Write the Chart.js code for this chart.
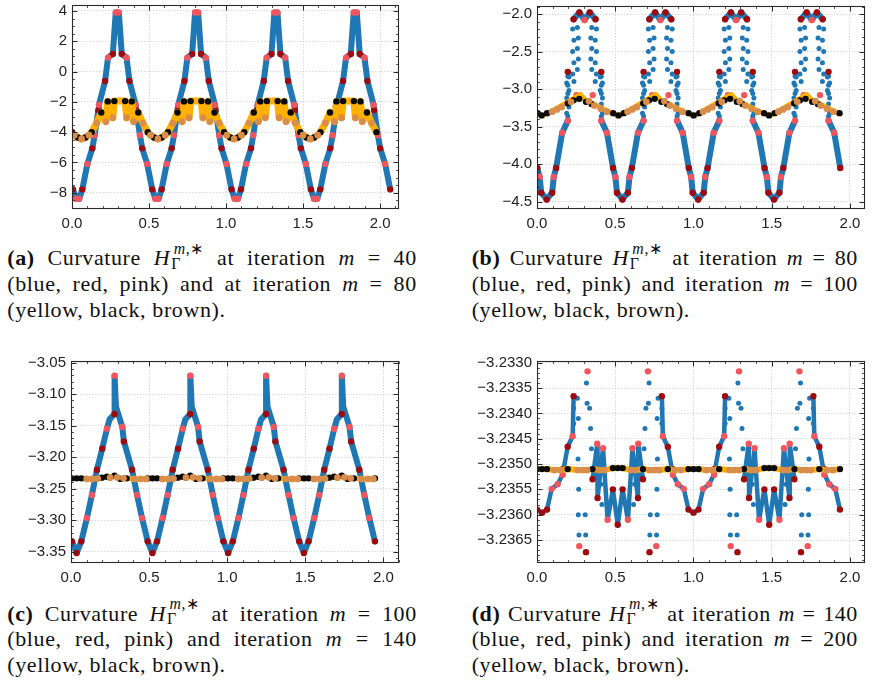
<!DOCTYPE html>
<html><head><meta charset="utf-8">
<script src="https://cdn.jsdelivr.net/npm/chart.js@4.4.0/dist/chart.umd.min.js"></script>
<style>
html,body{margin:0;padding:0;background:#fff;}
body{width:888px;height:682px;position:relative;overflow:hidden;}
canvas{position:absolute;}
.cap{position:absolute;font-family:"Liberation Serif","Times New Roman",serif;font-size:22px;line-height:25.7px;color:#111;letter-spacing:0.6px;}
.cap .j{text-align:justify;text-align-last:justify;}
.ss{display:inline-block;position:relative;width:1.55em;height:0.7em;}
.sp{position:absolute;left:0.22em;bottom:0.55em;font-size:0.72em;line-height:1;}
.sb{position:absolute;left:0.06em;bottom:-0.38em;font-size:0.72em;line-height:1;}
</style></head><body>
<canvas id="ca" width="420" height="235" style="left:0px;top:0px"></canvas>
<canvas id="cb" width="444" height="235" style="left:444px;top:0px"></canvas>
<canvas id="cc" width="420" height="250" style="left:0px;top:340px"></canvas>
<canvas id="cd" width="444" height="250" style="left:444px;top:340px"></canvas>

<div class="cap" style="left:7.3px;top:245.4px;width:409.5px">
<div class="j"><b>(a)</b> Curvature <i>H</i><span class="ss"><span class="sp"><i>m</i>,∗</span><span class="sb">Γ</span></span> at iteration <i>m</i> = 40</div>
<div class="j">(blue, red, pink) and at iteration <i>m</i> = 80</div>
<div>(yellow, black, brown).</div>
</div>
<div class="cap" style="left:471.7px;top:245.4px;width:386.3px">
<div class="j"><b>(b)</b> Curvature <i>H</i><span class="ss"><span class="sp"><i>m</i>,∗</span><span class="sb">Γ</span></span> at iteration <i>m</i> = 80</div>
<div class="j">(blue, red, pink) and iteration <i>m</i> = 100</div>
<div>(yellow, black, brown).</div>
</div>
<div class="cap" style="left:7.3px;top:600.7px;width:409.5px">
<div class="j"><b>(c)</b> Curvature <i>H</i><span class="ss"><span class="sp"><i>m</i>,∗</span><span class="sb">Γ</span></span> at iteration <i>m</i> = 100</div>
<div class="j">(blue, red, pink) and iteration <i>m</i> = 140</div>
<div>(yellow, black, brown).</div>
</div>
<div class="cap" style="left:471.7px;top:600.7px;width:386.3px">
<div class="j"><b>(d)</b> Curvature <i>H</i><span class="ss"><span class="sp"><i>m</i>,∗</span><span class="sb">Γ</span></span> at iteration <i>m</i> = 140</div>
<div class="j">(blue, red, pink) and iteration <i>m</i> = 200</div>
<div>(yellow, black, brown).</div>
</div>

<script>
// ================= DATA =================
// ---- tick values ----
const xTicks = [0, 0.5, 1.0, 1.5, 2.0];
const aYTicks = [-8, -6, -4, -2, 0, 2, 4];
const bYTicks = [-4.5, -4.0, -3.5, -3.0, -2.5, -2.0];
const cYTicks = [-3.35, -3.30, -3.25, -3.20, -3.15, -3.10, -3.05];
const dYTicks = [-3.2365, -3.2360, -3.2355, -3.2350, -3.2345, -3.2340, -3.2335, -3.2330];

// ---- panel (a): m=40 (red, pink markers on blue curve) ----
const aRed = [[0.006,-7.78],
 [0.067,-7.78],[0.132,-5.07],[0.171,-2.55],[0.215,-0.62],[0.265,1.16],[0.323,1.16],[0.373,-0.62],[0.417,-2.55],[0.456,-5.07],[0.521,-7.78],
 [0.582,-7.78],[0.647,-5.07],[0.686,-2.55],[0.730,-0.62],[0.780,1.16],[0.838,1.16],[0.888,-0.62],[0.932,-2.55],[0.971,-5.07],[1.036,-7.78],
 [1.097,-7.78],[1.162,-5.07],[1.201,-2.55],[1.245,-0.62],[1.295,1.16],[1.353,1.16],[1.403,-0.62],[1.447,-2.55],[1.486,-5.07],[1.551,-7.78],
 [1.612,-7.78],[1.677,-5.07],[1.716,-2.55],[1.760,-0.62],[1.810,1.16],[1.868,1.16],[1.918,-0.62],[1.962,-2.55],[2.001,-5.07],[2.066,-7.78]];
const aPink = [[0.026,-8.4],
 [0.047,-8.4],[0.100,-6.1],[0.147,-4.2],[0.175,-2.2],[0.234,0.92],[0.284,3.9],[0.304,3.9],[0.354,0.92],[0.413,-2.2],[0.441,-4.2],[0.488,-6.1],[0.541,-8.4],
 [0.562,-8.4],[0.615,-6.1],[0.662,-4.2],[0.690,-2.2],[0.749,0.92],[0.799,3.9],[0.819,3.9],[0.869,0.92],[0.928,-2.2],[0.956,-4.2],[1.003,-6.1],[1.056,-8.4],
 [1.077,-8.4],[1.130,-6.1],[1.177,-4.2],[1.205,-2.2],[1.264,0.92],[1.314,3.9],[1.334,3.9],[1.384,0.92],[1.443,-2.2],[1.471,-4.2],[1.518,-6.1],[1.571,-8.4],
 [1.592,-8.4],[1.645,-6.1],[1.692,-4.2],[1.720,-2.2],[1.779,0.92],[1.829,3.9],[1.849,3.9],[1.899,0.92],[1.958,-2.2],[1.986,-4.2],[2.033,-6.1]];
// ---- panel (a): m=80 (black, brown markers on yellow curve) ----
const aBlack = [[0.0,-4.0],[0.0375,-4.35],
 [0.0875,-4.35],[0.128,-4.0],[0.19,-2.7],[0.232,-1.97],[0.275,-1.95],[0.345,-1.95],[0.388,-1.97],[0.43,-2.7],[0.492,-4.0],[0.5325,-4.35],
 [0.5825,-4.35],[0.623,-4.0],[0.685,-2.7],[0.727,-1.97],[0.77,-1.95],[0.84,-1.95],[0.883,-1.97],[0.925,-2.7],[0.987,-4.0],[1.0275,-4.35],
 [1.0775,-4.35],[1.118,-4.0],[1.18,-2.7],[1.222,-1.97],[1.265,-1.95],[1.335,-1.95],[1.378,-1.97],[1.42,-2.7],[1.482,-4.0],[1.5225,-4.35],
 [1.5725,-4.35],[1.613,-4.0],[1.675,-2.7],[1.717,-1.97],[1.76,-1.95],[1.83,-1.95],[1.873,-1.97],[1.915,-2.7],[1.977,-4.0]];
const aBrown = [[0.015,-4.2],[0.0625,-4.45],
 [0.11,-4.2],[0.16,-3.4],[0.22,-3.3],[0.265,-3.05],[0.355,-3.05],[0.40,-3.3],[0.46,-3.4],[0.51,-4.2],[0.5575,-4.45],
 [0.605,-4.2],[0.655,-3.4],[0.715,-3.3],[0.76,-3.05],[0.85,-3.05],[0.895,-3.3],[0.955,-3.4],[1.005,-4.2],[1.0525,-4.45],
 [1.10,-4.2],[1.15,-3.4],[1.21,-3.3],[1.255,-3.05],[1.345,-3.05],[1.39,-3.3],[1.45,-3.4],[1.50,-4.2],[1.5475,-4.45],
 [1.595,-4.2],[1.645,-3.4],[1.705,-3.3],[1.75,-3.05],[1.84,-3.05],[1.885,-3.3],[1.945,-3.4]];

// ---- panel (b): m=80 ----
const bRed = [[0.002,-4.05],[0.027,-4.38],[0.062,-4.47],[0.097,-4.38],[0.122,-4.05],
 [0.197,-2.77],[0.234,-2.07],[0.271,-1.98],[0.337,-1.98],[0.374,-2.07],[0.411,-2.77],
 [0.486,-4.05],[0.511,-4.38],[0.546,-4.47],[0.581,-4.38],[0.606,-4.05],
 [0.681,-2.77],[0.718,-2.07],[0.755,-1.98],[0.821,-1.98],[0.858,-2.07],[0.895,-2.77],
 [0.970,-4.05],[0.995,-4.38],[1.030,-4.47],[1.065,-4.38],[1.090,-4.05],
 [1.165,-2.77],[1.202,-2.07],[1.239,-1.98],[1.305,-1.98],[1.342,-2.07],[1.379,-2.77],
 [1.454,-4.05],[1.479,-4.38],[1.514,-4.47],[1.549,-4.38],[1.574,-4.05],
 [1.649,-2.77],[1.686,-2.07],[1.723,-1.98],[1.789,-1.98],[1.826,-2.07],[1.863,-2.77],
 [1.938,-4.05]];
const bPink = [[0.017,-4.17],[0.107,-4.17],
 [0.161,-3.58],[0.197,-3.42],[0.252,-3.08],[0.304,-2.08],[0.356,-3.08],[0.411,-3.42],[0.447,-3.58],
 [0.501,-4.17],[0.591,-4.17],
 [0.645,-3.58],[0.681,-3.42],[0.736,-3.08],[0.788,-2.08],[0.840,-3.08],[0.895,-3.42],[0.931,-3.58],
 [0.985,-4.17],[1.075,-4.17],
 [1.129,-3.58],[1.165,-3.42],[1.220,-3.08],[1.272,-2.08],[1.324,-3.08],[1.379,-3.42],[1.415,-3.58],
 [1.469,-4.17],[1.559,-4.17],
 [1.613,-3.58],[1.649,-3.42],[1.704,-3.08],[1.756,-2.08],[1.808,-3.08],[1.863,-3.42],[1.899,-3.58]];
const bBlueLine = [[0.002,-4.05],[0.017,-4.17],[0.027,-4.38],[0.062,-4.47],[0.097,-4.38],[0.107,-4.17],[0.122,-4.05],[0.161,-3.58],[0.197,-3.42],null,
 [0.234,-2.07],[0.271,-1.98],[0.304,-2.08],[0.337,-1.98],[0.374,-2.07],null,
 [0.411,-3.42],[0.447,-3.58],[0.486,-4.05],[0.501,-4.17],[0.511,-4.38],[0.546,-4.47],[0.581,-4.38],[0.591,-4.17],[0.606,-4.05],[0.645,-3.58],[0.681,-3.42],null,
 [0.718,-2.07],[0.755,-1.98],[0.788,-2.08],[0.821,-1.98],[0.858,-2.07],null,
 [0.895,-3.42],[0.931,-3.58],[0.970,-4.05],[0.985,-4.17],[0.995,-4.38],[1.030,-4.47],[1.065,-4.38],[1.075,-4.17],[1.090,-4.05],[1.129,-3.58],[1.165,-3.42],null,
 [1.202,-2.07],[1.239,-1.98],[1.272,-2.08],[1.305,-1.98],[1.342,-2.07],null,
 [1.379,-3.42],[1.415,-3.58],[1.454,-4.05],[1.469,-4.17],[1.479,-4.38],[1.514,-4.47],[1.549,-4.38],[1.559,-4.17],[1.574,-4.05],[1.613,-3.58],[1.649,-3.42],null,
 [1.686,-2.07],[1.723,-1.98],[1.756,-2.08],[1.789,-1.98],[1.826,-2.07],null,
 [1.863,-3.42],[1.899,-3.58],[1.938,-4.05]];
// scattered blue dots in the "tulips": [x, [y values]]
const bBlueCols = [
 [0.190,[-3.32,-3.12,-2.92]],[0.197,[-3.36,-3.2,-3.06,-2.95,-2.83]],[0.204,[-3.24,-3.02,-2.84]],[0.228,[-2.2,-2.5,-2.8]],[0.236,[-2.35,-2.65,-2.9]],[0.258,[-2.18,-2.46,-2.74]],[0.264,[-2.32,-2.6]],
 [0.344,[-2.32,-2.6]],[0.350,[-2.18,-2.46,-2.74]],[0.372,[-2.35,-2.65,-2.9]],[0.380,[-2.2,-2.5,-2.8]],[0.404,[-3.24,-3.02,-2.84]],[0.411,[-3.36,-3.2,-3.06,-2.95,-2.83]],[0.418,[-3.32,-3.12,-2.92]],
 [0.674,[-3.32,-3.12,-2.92]],[0.681,[-3.36,-3.2,-3.06,-2.95,-2.83]],[0.688,[-3.24,-3.02,-2.84]],[0.712,[-2.2,-2.5,-2.8]],[0.720,[-2.35,-2.65,-2.9]],[0.742,[-2.18,-2.46,-2.74]],[0.748,[-2.32,-2.6]],
 [0.828,[-2.32,-2.6]],[0.834,[-2.18,-2.46,-2.74]],[0.856,[-2.35,-2.65,-2.9]],[0.864,[-2.2,-2.5,-2.8]],[0.888,[-3.24,-3.02,-2.84]],[0.895,[-3.36,-3.2,-3.06,-2.95,-2.83]],[0.902,[-3.32,-3.12,-2.92]],
 [1.158,[-3.32,-3.12,-2.92]],[1.165,[-3.36,-3.2,-3.06,-2.95,-2.83]],[1.172,[-3.24,-3.02,-2.84]],[1.196,[-2.2,-2.5,-2.8]],[1.204,[-2.35,-2.65,-2.9]],[1.226,[-2.18,-2.46,-2.74]],[1.232,[-2.32,-2.6]],
 [1.312,[-2.32,-2.6]],[1.318,[-2.18,-2.46,-2.74]],[1.340,[-2.35,-2.65,-2.9]],[1.348,[-2.2,-2.5,-2.8]],[1.372,[-3.24,-3.02,-2.84]],[1.379,[-3.36,-3.2,-3.06,-2.95,-2.83]],[1.386,[-3.32,-3.12,-2.92]],
 [1.642,[-3.32,-3.12,-2.92]],[1.649,[-3.36,-3.2,-3.06,-2.95,-2.83]],[1.656,[-3.24,-3.02,-2.84]],[1.680,[-2.2,-2.5,-2.8]],[1.688,[-2.35,-2.65,-2.9]],[1.710,[-2.18,-2.46,-2.74]],[1.716,[-2.32,-2.6]],
 [1.796,[-2.32,-2.6]],[1.802,[-2.18,-2.46,-2.74]],[1.824,[-2.35,-2.65,-2.9]],[1.832,[-2.2,-2.5,-2.8]],[1.856,[-3.24,-3.02,-2.84]],[1.863,[-3.36,-3.2,-3.06,-2.95,-2.83]],[1.870,[-3.32,-3.12,-2.92]]];
// ---- panel (b): m=100 ----
const bYellow = [[0,-3.33],[0.03,-3.35],[0.067,-3.33],[0.277,-3.07],[0.307,-3.14],[0.487,-3.33],[0.521,-3.35],[0.549,-3.33],[0.759,-3.07],[0.789,-3.14],
 [0.969,-3.33],[1.003,-3.35],[1.031,-3.33],[1.241,-3.07],[1.271,-3.14],[1.451,-3.33],[1.485,-3.35],[1.513,-3.33],[1.723,-3.07],[1.753,-3.14],[1.936,-3.33]];
const bBlack = [[0.004,-3.32],[0.03,-3.35],[0.064,-3.32],[0.197,-3.19],[0.234,-3.15],[0.27,-3.13],[0.313,-3.17],[0.349,-3.2],
 [0.487,-3.32],[0.521,-3.35],[0.555,-3.32],[0.679,-3.19],[0.716,-3.15],[0.752,-3.13],[0.795,-3.17],[0.831,-3.2],
 [0.969,-3.32],[1.001,-3.35],[1.037,-3.32],[1.161,-3.19],[1.198,-3.15],[1.234,-3.13],[1.277,-3.17],[1.313,-3.2],
 [1.451,-3.32],[1.483,-3.35],[1.519,-3.32],[1.643,-3.19],[1.680,-3.15],[1.716,-3.13],[1.759,-3.17],[1.795,-3.2],
 [1.933,-3.32]];
const bBrown = [[0.097,-3.3],[0.127,-3.27],[0.157,-3.24],[0.217,-3.17],[0.332,-3.16],[0.367,-3.22],[0.407,-3.26],[0.447,-3.3],
 [0.579,-3.3],[0.609,-3.27],[0.639,-3.24],[0.699,-3.17],[0.814,-3.16],[0.849,-3.22],[0.889,-3.26],[0.929,-3.3],
 [1.061,-3.3],[1.091,-3.27],[1.121,-3.24],[1.181,-3.17],[1.296,-3.16],[1.331,-3.22],[1.371,-3.26],[1.411,-3.3],
 [1.543,-3.3],[1.573,-3.27],[1.603,-3.24],[1.663,-3.17],[1.778,-3.16],[1.813,-3.22],[1.853,-3.26],[1.893,-3.3]];

// ---- panel (c): m=100 ----
const cRed = [[0.006,-3.3336],[0.036,-3.352],[0.066,-3.3336],[0.166,-3.22],[0.200,-3.1865],[0.2785,-3.1315],[0.3385,-3.175],[0.391,-3.22],[0.491,-3.3336],
 [0.521,-3.352],[0.551,-3.3336],[0.651,-3.22],[0.685,-3.1865],[0.7635,-3.1315],[0.8235,-3.175],[0.876,-3.22],[0.976,-3.3336],
 [1.006,-3.352],[1.036,-3.3336],[1.136,-3.22],[1.170,-3.1865],[1.2485,-3.1315],[1.3085,-3.175],[1.361,-3.22],[1.461,-3.3336],
 [1.491,-3.352],[1.521,-3.3336],[1.621,-3.22],[1.655,-3.1865],[1.7335,-3.1315],[1.7935,-3.175],[1.846,-3.22],[1.946,-3.3336]];
const cPink = [[0.102,-3.2966],[0.134,-3.26],[0.230,-3.155],[0.279,-3.0706],[0.3285,-3.152],[0.423,-3.26],[0.455,-3.2966],
 [0.587,-3.2966],[0.619,-3.26],[0.715,-3.155],[0.764,-3.0706],[0.8135,-3.152],[0.908,-3.26],[0.940,-3.2966],
 [1.072,-3.2966],[1.104,-3.26],[1.200,-3.155],[1.249,-3.0706],[1.2985,-3.152],[1.393,-3.26],[1.425,-3.2966],
 [1.557,-3.2966],[1.589,-3.26],[1.685,-3.155],[1.734,-3.0706],[1.7835,-3.152],[1.878,-3.26],[1.910,-3.2966]];
const cBends = [[0.247,-3.14],[0.288,-3.12],[0.732,-3.14],[0.773,-3.12],[1.217,-3.14],[1.258,-3.12],[1.702,-3.14],[1.743,-3.12]];
// ---- panel (c): m=140 ----
const cBlack = [[0.006,-3.2336],[0.036,-3.2336],[0.066,-3.2336],[0.198,-3.2325],[0.230,-3.231],[0.2785,-3.2296],[0.316,-3.2345],[0.356,-3.2336],
 [0.491,-3.2336],[0.521,-3.2336],[0.551,-3.2336],[0.683,-3.2325],[0.715,-3.231],[0.7635,-3.2296],[0.801,-3.2345],[0.841,-3.2336],
 [0.976,-3.2336],[1.006,-3.2336],[1.036,-3.2336],[1.168,-3.2325],[1.200,-3.231],[1.2485,-3.2296],[1.286,-3.2345],[1.326,-3.2336],
 [1.461,-3.2336],[1.491,-3.2336],[1.521,-3.2336],[1.653,-3.2325],[1.685,-3.231],[1.7335,-3.2296],[1.771,-3.2345],[1.811,-3.2336],
 [1.946,-3.2336]];
const cBrown = [[0.101,-3.2345],[0.136,-3.2345],[0.171,-3.234],[0.251,-3.2325],[0.296,-3.232],[0.336,-3.2335],[0.406,-3.2345],[0.446,-3.2345],[0.481,-3.2345],
 [0.586,-3.2345],[0.621,-3.2345],[0.656,-3.234],[0.736,-3.2325],[0.781,-3.232],[0.821,-3.2335],[0.891,-3.2345],[0.931,-3.2345],[0.966,-3.2345],
 [1.071,-3.2345],[1.106,-3.2345],[1.141,-3.234],[1.221,-3.2325],[1.266,-3.232],[1.306,-3.2335],[1.376,-3.2345],[1.416,-3.2345],[1.451,-3.2345],
 [1.556,-3.2345],[1.591,-3.2345],[1.626,-3.234],[1.706,-3.2325],[1.751,-3.232],[1.791,-3.2335],[1.861,-3.2345],[1.901,-3.2345],[1.936,-3.2345]];

// ---- panel (d): m=140 ----
const dRed = [[0.000,-3.2359],[0.032,-3.23596],[0.064,-3.2359],[0.164,-3.2351],[0.196,-3.23466],[0.234,-3.23366],[0.313,-3.23674],[0.355,-3.2353],[0.387,-3.23567],[0.485,-3.2355],[0.516,-3.2362],
 [0.547,-3.2355],[0.645,-3.23567],[0.677,-3.2353],[0.719,-3.23674],[0.798,-3.23366],[0.836,-3.23466],[0.868,-3.2351],[0.968,-3.2359],[1.000,-3.23596],[1.032,-3.2359],
 [1.132,-3.2351],[1.164,-3.23466],[1.202,-3.23366],[1.281,-3.23674],[1.323,-3.2353],[1.355,-3.23567],[1.453,-3.2355],[1.484,-3.2362],
 [1.515,-3.2355],[1.613,-3.23567],[1.645,-3.2353],[1.687,-3.23674],[1.766,-3.23366],[1.804,-3.23466],[1.836,-3.2351],[1.936,-3.2359]];
const dPink = [[0.094,-3.23549],[0.132,-3.2354],[0.164,-3.23521],[0.228,-3.23445],[0.270,-3.23662],[0.323,-3.23317],[0.385,-3.2346],[0.422,-3.23469],[0.451,-3.2361],
 [0.581,-3.2361],[0.610,-3.23469],[0.647,-3.2346],[0.709,-3.23317],[0.762,-3.23662],[0.804,-3.23445],[0.868,-3.23521],[0.900,-3.2354],[0.938,-3.23549],
 [1.062,-3.23549],[1.100,-3.2354],[1.132,-3.23521],[1.196,-3.23445],[1.238,-3.23662],[1.291,-3.23317],[1.353,-3.2346],[1.390,-3.23469],[1.419,-3.2361],
 [1.549,-3.2361],[1.578,-3.23469],[1.615,-3.2346],[1.677,-3.23317],[1.730,-3.23662],[1.772,-3.23445],[1.836,-3.23521],[1.868,-3.2354],[1.906,-3.23549]];
const dBlueLine = [[0.000,-3.2359],[0.032,-3.23596],[0.064,-3.2359],[0.094,-3.23549],[0.132,-3.2354],[0.164,-3.2352],[0.196,-3.23466],[0.228,-3.23445],[0.234,-3.23366],null,
 [0.355,-3.2353],[0.385,-3.2346],[0.387,-3.23567],[0.422,-3.23469],[0.451,-3.2361],[0.485,-3.2355],[0.516,-3.2362],[0.547,-3.2355],[0.581,-3.2361],[0.610,-3.23469],[0.645,-3.23567],[0.647,-3.2346],[0.677,-3.2353],null,
 [0.798,-3.23366],[0.804,-3.23445],[0.836,-3.23466],[0.868,-3.2352],[0.900,-3.2354],[0.938,-3.23549],[0.968,-3.2359],[1.000,-3.23596],[1.032,-3.2359],[1.062,-3.23549],[1.100,-3.2354],[1.132,-3.2352],[1.164,-3.23466],[1.196,-3.23445],[1.202,-3.23366],null,
 [1.323,-3.2353],[1.353,-3.2346],[1.355,-3.23567],[1.390,-3.23469],[1.419,-3.2361],[1.453,-3.2355],[1.484,-3.2362],[1.515,-3.2355],[1.549,-3.2361],[1.578,-3.23469],[1.613,-3.23567],[1.615,-3.2346],[1.645,-3.2353],null,
 [1.766,-3.23366],[1.772,-3.23445],[1.804,-3.23466],[1.836,-3.2352],[1.868,-3.2354],[1.906,-3.23549],[1.936,-3.2359]];
const dBlueDots = [
 [0.234,-3.2339],[0.234,-3.2342],[0.258,-3.2337],[0.264,-3.2341],[0.262,-3.2349],[0.266,-3.2355],[0.264,-3.2360],[0.268,-3.2364],[0.316,-3.2334],[0.320,-3.2338],[0.308,-3.2360],[0.311,-3.2364],[0.336,-3.2339],[0.342,-3.2343],[0.348,-3.2347],[0.400,-3.2350],[0.408,-3.2354],[0.415,-3.2358],
 [0.798,-3.2339],[0.798,-3.2342],[0.774,-3.2337],[0.768,-3.2341],[0.770,-3.2349],[0.766,-3.2355],[0.768,-3.2360],[0.764,-3.2364],[0.716,-3.2334],[0.712,-3.2338],[0.724,-3.2360],[0.721,-3.2364],[0.696,-3.2339],[0.690,-3.2343],[0.684,-3.2347],[0.632,-3.2350],[0.624,-3.2354],[0.617,-3.2358],
 [1.202,-3.2339],[1.202,-3.2342],[1.226,-3.2337],[1.232,-3.2341],[1.230,-3.2349],[1.234,-3.2355],[1.232,-3.2360],[1.236,-3.2364],[1.284,-3.2334],[1.288,-3.2338],[1.276,-3.2360],[1.279,-3.2364],[1.304,-3.2339],[1.310,-3.2343],[1.316,-3.2347],[1.368,-3.2350],[1.376,-3.2354],[1.383,-3.2358],
 [1.766,-3.2339],[1.766,-3.2342],[1.742,-3.2337],[1.736,-3.2341],[1.738,-3.2349],[1.734,-3.2355],[1.736,-3.2360],[1.732,-3.2364],[1.684,-3.2334],[1.680,-3.2338],[1.692,-3.2360],[1.689,-3.2364],[1.664,-3.2339],[1.658,-3.2343],[1.652,-3.2347],[1.600,-3.2350],[1.592,-3.2354],[1.585,-3.2358]];
// ---- panel (d): m=200 ----
const dBlack = [[0.000,-3.2351],[0.032,-3.2351],[0.064,-3.2351],[0.196,-3.2351],[0.355,-3.2351],[0.485,-3.23508],[0.516,-3.23508],[0.547,-3.23508],[0.677,-3.2351],[0.836,-3.2351],
 [0.968,-3.2351],[1.000,-3.2351],[1.032,-3.2351],[1.164,-3.2351],[1.323,-3.2351],[1.453,-3.23508],[1.484,-3.23508],[1.515,-3.23508],[1.645,-3.2351],[1.804,-3.2351],[1.936,-3.2351]];
const dBrown = [[0.11,-3.23512],[0.15,-3.23512],[0.26,-3.23512],[0.29,-3.23512],[0.32,-3.23512],[0.40,-3.23512],[0.43,-3.23512],[0.60,-3.23512],[0.63,-3.23512],[0.72,-3.23512],
 [0.75,-3.23512],[0.78,-3.23512],[0.88,-3.23512],[0.92,-3.23512],[1.08,-3.23512],[1.12,-3.23512],[1.23,-3.23512],[1.26,-3.23512],[1.29,-3.23512],[1.37,-3.23512],
 [1.40,-3.23512],[1.57,-3.23512],[1.60,-3.23512],[1.69,-3.23512],[1.72,-3.23512],[1.75,-3.23512],[1.85,-3.23512],[1.89,-3.23512]];

// ================= RENDERING =================
const FONT = '"Liberation Sans", Arial, sans-serif';
const COL = {blue:'#1f77b4', red:'#9e0a0e', pink:'#f4555d', yellow:'#ffb000', black:'#0a0a0a', brown:'#d98d4a'};

function pts(arr) {
  const out = []; let lastX = 0;
  for (const p of arr) {
    if (p === null) out.push({x: lastX, y: null});
    else { out.push({x: p[0], y: p[1]}); lastX = p[0]; }
  }
  return out;
}
const merge = (...arrs) => [].concat(...arrs).slice().sort((p, q) => p[0] - q[0]);
const expandCols = cols => cols.flatMap(([x, ys]) => ys.map(y => [x, y]));

function lineDS(arr, color, w, order) {
  return {data: pts(arr), showLine: true, borderColor: color, borderWidth: w, pointRadius: 0, pointHoverRadius: 0,
    borderJoinStyle: 'round', borderCapStyle: 'round', spanGaps: false, fill: false, order, clip: 0};
}
function dotDS(arr, color, r, order) {
  return {data: pts(arr), showLine: false, backgroundColor: color, borderWidth: 0, pointRadius: r, pointHoverRadius: r, order, clip: 0};
}

const frameTicks = {
  id: 'frameTicks',
  afterDraw(chart, args, o) {
    const {ctx, chartArea: a} = chart;
    const xs = chart.scales.x, ys = chart.scales.y;
    const L = Math.round(a.left) + 0.5, R = Math.round(a.right) - 0.5, T = Math.round(a.top) + 0.5, B = Math.round(a.bottom) - 0.5;
    const minorVals = (s, n) => {
      const m = s.ticks.map(t => t.value); const st = (m[1] - m[0]) / n; const out = [];
      for (let v = m[0]; v >= s.min - st * 1e-6; v -= st) out.push(v);
      for (let v = m[0] + st; v <= s.max + st * 1e-6; v += st) out.push(v);
      return out;
    };
    ctx.save();
    ctx.strokeStyle = '#2a2a2a';
    ctx.lineWidth = 0.8;
    ctx.beginPath();
    for (const v of minorVals(xs, o.nx)) { const p = Math.round(xs.getPixelForValue(v)) + 0.5; ctx.moveTo(p, B); ctx.lineTo(p, B - 2.5); ctx.moveTo(p, T); ctx.lineTo(p, T + 2.5); }
    for (const v of minorVals(ys, o.ny)) { const p = Math.round(ys.getPixelForValue(v)) + 0.5; ctx.moveTo(L, p); ctx.lineTo(L + 2.5, p); ctx.moveTo(R, p); ctx.lineTo(R - 2.5, p); }
    ctx.stroke();
    ctx.lineWidth = 1;
    ctx.beginPath();
    for (const t of xs.ticks) { const p = Math.round(xs.getPixelForValue(t.value)) + 0.5; ctx.moveTo(p, B); ctx.lineTo(p, B - 5); ctx.moveTo(p, T); ctx.lineTo(p, T + 5); }
    for (const t of ys.ticks) { const p = Math.round(ys.getPixelForValue(t.value)) + 0.5; ctx.moveTo(L, p); ctx.lineTo(L + 5, p); ctx.moveTo(R, p); ctx.lineTo(R - 5, p); }
    ctx.stroke();
    ctx.lineWidth = 1.1;
    ctx.strokeRect(L, T, R - L, B - T);
    ctx.restore();
  }
};

const fmt = (v, d) => { let s = Number(v).toFixed(d); if (Math.abs(v) < 1e-12) s = (0).toFixed(d); return s.replace('-', '\u2212'); };

function makeChart(id, box, area, xr, yr, yTicks, ydec, ny, datasets) {
  const gridOpts = {color: '#cdcdcd', lineWidth: 0.8, drawTicks: false};
  const tickFont = {family: FONT, size: 15};
  return new Chart(document.getElementById(id), {
    type: 'scatter',
    data: {datasets},
    plugins: [frameTicks],
    options: {
      responsive: false, animation: false, devicePixelRatio: 1, events: [],
      layout: {padding: {left: 0, top: area.T - box.top, right: box.left + box.w - area.R, bottom: 0}},
      plugins: {legend: {display: false}, tooltip: {enabled: false}, frameTicks: {nx: 5, ny}},
      scales: {
        x: {type: 'linear', min: xr[0], max: xr[1],
          afterBuildTicks: s => { s.ticks = xTicks.map(v => ({value: v})); },
          afterFit: s => { s.height = box.top + box.h - area.B; s.paddingLeft = 0; s.paddingRight = 0; },
          ticks: {font: tickFont, color: '#222', padding: 6, maxRotation: 0, autoSkip: false, callback: v => fmt(v, 1)},
          grid: gridOpts, border: {display: false, dash: [1.4, 1.6]}},
        y: {type: 'linear', min: yr[0], max: yr[1],
          afterBuildTicks: s => { s.ticks = yTicks.map(v => ({value: v})); },
          afterFit: s => { s.width = area.L - box.left; s.paddingTop = 0; s.paddingBottom = 0; },
          ticks: {font: tickFont, color: '#222', padding: 5, autoSkip: false, callback: v => fmt(v, ydec)},
          grid: gridOpts, border: {display: false, dash: [1.4, 1.6]}}
      }
    }
  });
}

// (a)
makeChart('ca', {left: 0, top: 0, w: 420, h: 235}, {L: 72, R: 399, T: 5, B: 209}, [0, 2.123], [-9.077, 4.396], aYTicks, 0, 4, [
  dotDS(aBrown, COL.brown, 3.4, 1),
  dotDS(aBlack, COL.black, 3.2, 2),
  lineDS(merge(aBlack, aBrown), COL.yellow, 7, 3),
  dotDS(aPink, COL.pink, 3.2, 4),
  dotDS(aRed, COL.red, 3.2, 5),
  lineDS(merge(aRed, aPink), COL.blue, 6, 7)
]);
// (b)
makeChart('cb', {left: 444, top: 0, w: 444, h: 235}, {L: 537, R: 865, T: 6, B: 209}, [0, 2.096], [-4.597, -1.893], bYTicks, 1, 5, [
  dotDS(bBrown, COL.brown, 3.4, 1),
  dotDS(bBlack, COL.black, 3.2, 2),
  lineDS(bYellow, COL.yellow, 5, 3),
  dotDS(bPink, COL.pink, 3.2, 4),
  dotDS(bRed, COL.red, 3.2, 5),
  dotDS(expandCols(bBlueCols), COL.blue, 2.5, 6),
  lineDS(bBlueLine, COL.blue, 6, 7)
]);
// (c)
makeChart('cc', {left: 0, top: 340, w: 420, h: 250}, {L: 71, R: 399, T: 361, B: 563}, [0, 2.1], [-3.36798, -3.04735], cYTicks, 2, 5, [
  dotDS(cBrown, COL.brown, 3.4, 1),
  dotDS(cBlack, COL.black, 3.2, 2),
  lineDS(merge(cBlack, cBrown), COL.yellow, 5, 3),
  dotDS(cPink, COL.pink, 3.2, 4),
  dotDS(cRed, COL.red, 3.2, 5),
  lineDS(merge(cRed, cPink, cBends), COL.blue, 6, 7)
]);
// (d)
makeChart('cd', {left: 444, top: 340, w: 444, h: 250}, {L: 537, R: 865, T: 361, B: 563}, [0, 2.096], [-3.236954, -3.232966], dYTicks, 4, 5, [
  dotDS(dBrown, COL.brown, 3.4, 1),
  dotDS(dBlack, COL.black, 3.2, 2),
  lineDS(merge(dBlack, dBrown), COL.yellow, 6, 3),
  dotDS(dPink, COL.pink, 3.2, 4),
  dotDS(dRed, COL.red, 3.2, 5),
  dotDS(dBlueDots, COL.blue, 2.5, 6),
  lineDS(dBlueLine, COL.blue, 4.5, 7)
]);
</script>
</body></html>
